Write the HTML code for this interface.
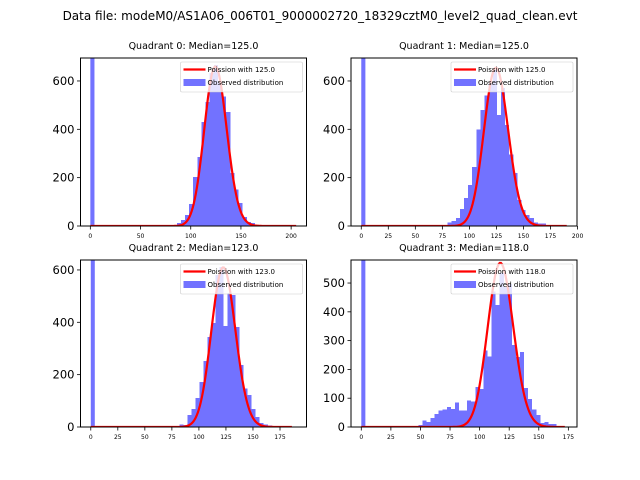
<!DOCTYPE html>
<html><head><meta charset="utf-8"><style>
body{margin:0;background:#fff}
svg{display:block;font-family:"DejaVu Sans","Liberation Sans",sans-serif}
</style></head><body>
<svg id="fig" width="640" height="480" xmlns="http://www.w3.org/2000/svg">
<rect width="640" height="480" fill="#fff"/>
<text x="320" y="20" font-size="12" text-anchor="middle">Data file: modeM0/AS1A06_006T01_9000002720_18329cztM0_level2_quad_clean.evt</text>
</svg>
<script>
// Q0
const q0Lambda = 125.0, q0Scale = 18490, q0BinWidth = 4.1, q0ZeroCount = 700, q0StartBin = 21, q0DataMax = 205;
const q0Counts = [12,25,45,90,203,285,430,513,633,666,592,535,472,220,150,95,37,17,12,3];
const q0XTicks = [0,50,100,150,200];
const q0YTicks = [0,200,400,600];
// Q1
const q1Lambda = 125.0, q1Scale = 18350, q1BinWidth = 3.8, q1ZeroCount = 700, q1StartBin = 21, q1DataMax = 190;
const q1Counts = [14,20,33,70,115,170,245,400,480,540,590,645,460,570,418,295,220,108,66,45,33,14,10,10,5,3];
const q1XTicks = [0,25,50,75,100,125,150,175,200];
const q1YTicks = [0,200,400,600];
// Q2
const q2Lambda = 123.0, q2Scale = 16960, q2BinWidth = 3.72, q2ZeroCount = 640, q2StartBin = 22, q2DataMax = 186;
const q2Counts = [10,8,46,69,111,172,252,344,397,581,611,386,512,504,382,237,148,122,69,38,15,10,5];
const q2XTicks = [0,25,50,75,100,125,150,175];
const q2YTicks = [0,200,400,600];
// Q3
const q3Lambda = 118.0, q3Scale = 15520, q3BinWidth = 3.44, q3ZeroCount = 585, q3StartBin = 14, q3DataMax = 172;
const q3Counts = [7,22,17,32,45,57,60,70,62,85,57,57,92,88,139,132,265,244,470,424,535,487,497,285,243,260,135,97,60,42,14,17,10,10];
const q3XTicks = [0,25,50,75,100,125,150,175];
const q3YTicks = [0,100,200,300,400,500];

const NS="http://www.w3.org/2000/svg";
const svg=document.getElementById('fig');
function mk(tag,attrs,parent){const e=document.createElementNS(NS,tag);for(const k in attrs)e.setAttribute(k,attrs[k]);(parent||svg).appendChild(e);return e;}
function logPmf(k,lam){let lf=0;for(let i=2;i<=k;i++)lf+=Math.log(i);return k*Math.log(lam)-lam-lf;}

const panels=[
 {id:0,L:80.5,T:58,W:226,H:168,xmin:-9.8,xmax:215.3,ymax:695,lam:q0Lambda,scale:q0Scale,bw:q0BinWidth,zero:q0ZeroCount,start:q0StartBin,dmax:q0DataMax,counts:q0Counts,xt:q0XTicks,yt:q0YTicks,title:"Quadrant 0: Median=125.0"},
 {id:1,L:351,T:58,W:226,H:168,xmin:-9.5,xmax:199.5,ymax:695,lam:q1Lambda,scale:q1Scale,bw:q1BinWidth,zero:q1ZeroCount,start:q1StartBin,dmax:q1DataMax,counts:q1Counts,xt:q1XTicks,yt:q1YTicks,title:"Quadrant 1: Median=125.0"},
 {id:2,L:80.5,T:260,W:226,H:167,xmin:-9.5,xmax:199.5,ymax:638,lam:q2Lambda,scale:q2Scale,bw:q2BinWidth,zero:q2ZeroCount,start:q2StartBin,dmax:q2DataMax,counts:q2Counts,xt:q2XTicks,yt:q2YTicks,title:"Quadrant 2: Median=123.0"},
 {id:3,L:351,T:260,W:226,H:167,xmin:-8.7,xmax:182.3,ymax:580,lam:q3Lambda,scale:q3Scale,bw:q3BinWidth,zero:q3ZeroCount,start:q3StartBin,dmax:q3DataMax,counts:q3Counts,xt:q3XTicks,yt:q3YTicks,title:"Quadrant 3: Median=118.0"}
];

panels.forEach(p=>{
 const g=mk('g',{});
 
 
 const xs=v=>p.L+(v-p.xmin)/(p.xmax-p.xmin)*p.W;
 const ys=v=>p.T+p.H-Math.min(v,p.ymax)/p.ymax*p.H;
 const bottom=p.T+p.H;
 const t=mk('text',{x:p.L+p.W/2,y:p.T-9,'font-size':'9.5','text-anchor':'middle'},g);
 t.textContent=p.title;
 
 
 const cp=mk('clipPath',{id:'cp'+p.id},g);
 mk('rect',{x:p.L,y:p.T,width:p.W,height:p.H},cp);
 const plot=mk('g',{'clip-path':'url(#cp'+p.id+')'},g);
 const zb=mk('rect',{x:xs(0),y:ys(p.zero),width:xs(p.bw)-xs(0),height:bottom-ys(p.zero),fill:'#7272ff'},plot);
 
 
 p.counts.forEach((c,i)=>{
  const x0=xs((p.start+i)*p.bw), x1=xs((p.start+i+1)*p.bw);
  const b=mk('rect',{x:x0,y:ys(c),width:x1-x0,height:bottom-ys(c),fill:'#7272ff','shape-rendering':'crispEdges'},plot);
  
  
 });
 let d='';
 for(let k=0;k<=p.dmax;k++){const v=p.scale*Math.exp(logPmf(k,p.lam));d+=(k?'L':'M')+xs(k).toFixed(2)+','+ys(v).toFixed(2);}
 const ln=mk('path',{d:d,fill:'none',stroke:'#ff0000','stroke-width':'2.2'},plot);
 
 
 const fr=mk('rect',{x:p.L,y:p.T,width:p.W,height:p.H,fill:'none',stroke:'#000','stroke-width':'1'},g);
 
 
 p.xt.forEach(v=>{
  const x=xs(v);
  mk('line',{x1:x,x2:x,y1:bottom,y2:bottom+3.5,stroke:'#000','stroke-width':'0.8'},g);
  const tl=mk('text',{x:x,y:bottom+12,'font-size':'6','text-anchor':'middle'},g);
  tl.textContent=v;
  
  
 });
 p.yt.forEach(v=>{
  const y=ys(v);
  mk('line',{x1:p.L-3.5,x2:p.L,y1:y,y2:y,stroke:'#000','stroke-width':'0.8'},g);
  const tl=mk('text',{x:p.L-6,y:y+4,'font-size':'11.5','text-anchor':'end'},g);
  tl.textContent=v;
  
  
 });
 const lx=p.L+p.W-126, ly=p.T+4;
 const lg=mk('g',{},g);
 
 
 mk('rect',{x:lx,y:ly,width:122,height:30,fill:'#fff','fill-opacity':'0.8',stroke:'#ccc','stroke-width':'0.6',rx:'1.5'},lg);
 mk('line',{x1:lx+3,x2:lx+25,y1:ly+7.5,y2:ly+7.5,stroke:'#ff0000','stroke-width':'2.2'},lg);
 mk('rect',{x:lx+3,y:ly+17,width:22,height:7,fill:'#7272ff'},lg);
 const t1=mk('text',{x:lx+27,y:ly+10,'font-size':'7'},lg);
 t1.textContent='Poission with '+p.lam.toFixed(1);
 
 
 const t2=mk('text',{x:lx+27,y:ly+23,'font-size':'7'},lg);
 t2.textContent='Observed distribution';
 
 
});
</script>
</body></html>
